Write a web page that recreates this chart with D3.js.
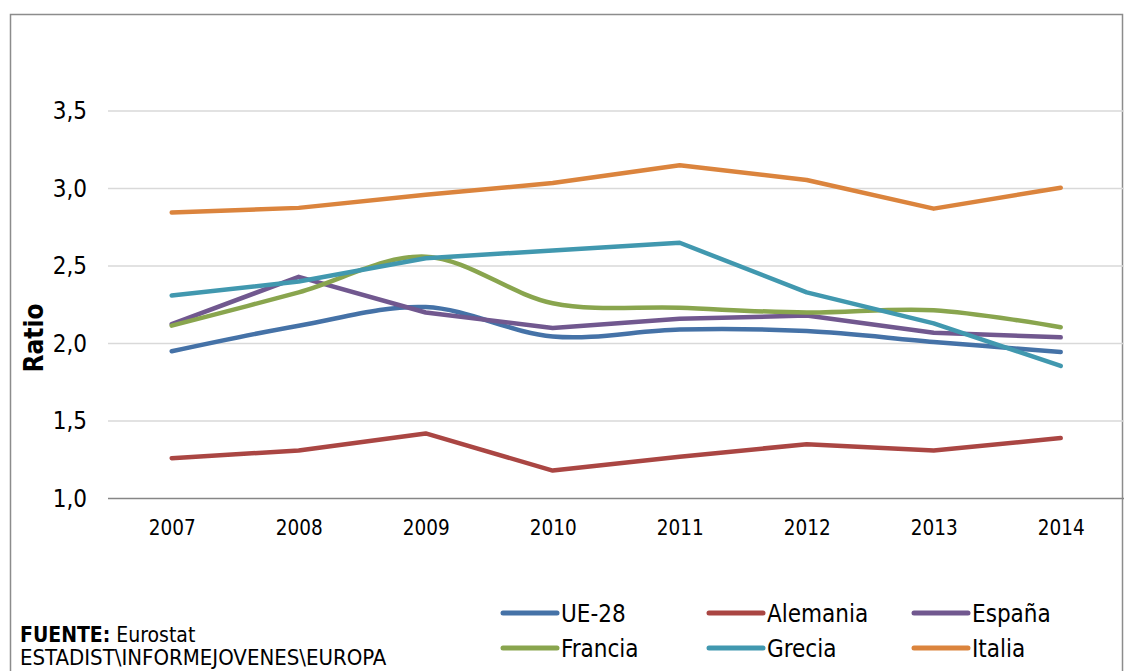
<!DOCTYPE html>
<html><head><meta charset="utf-8">
<script src="https://cdn.jsdelivr.net/npm/d3@7/dist/d3.min.js"></script>
<style>
html,body{margin:0;padding:0;background:#fff;}
svg{display:block;}
text{font-family:"DejaVu Sans Condensed","DejaVu Sans",sans-serif;font-stretch:condensed;fill:#000;}
</style></head><body>
<svg id="c" width="1130" height="671"></svg>
<script>
const years = ["2007","2008","2009","2010","2011","2012","2013","2014"];
const seriesNames = ["UE-28","Alemania","España","Francia","Grecia","Italia"];
const ue28     = [1.95, 2.115, 2.235, 2.045, 2.09, 2.08, 2.01, 1.945];
const alemania = [1.26, 1.31, 1.42, 1.18, 1.27, 1.35, 1.31, 1.39];
const espana   = [2.125, 2.43, 2.20, 2.10, 2.16, 2.18, 2.07, 2.04];
const francia  = [2.115, 2.33, 2.56, 2.26, 2.23, 2.20, 2.215, 2.105];
const grecia   = [2.31, 2.40, 2.55, 2.60, 2.65, 2.33, 2.13, 1.855];
const italia   = [2.845, 2.875, 2.96, 3.035, 3.15, 3.055, 2.87, 3.005];
const yTicks = [1.0, 1.5, 2.0, 2.5, 3.0, 3.5];
const colors = ["#4572A7","#AA4643","#71588F","#89A54E","#4198AF","#DB843D"];
const smooth = [true, false, false, true, false, false];
const values = [ue28, alemania, espana, francia, grecia, italia];

const svg = d3.select("#c");
// outer frame
svg.append("rect").attr("x",10.5).attr("y",14.5).attr("width",1112).attr("height",700)
  .attr("fill","none").attr("stroke","#8c8c8c").attr("stroke-width",1.5);

const x = d3.scalePoint().domain(years).range([171.7, 1060.7]);
const y = d3.scaleLinear().domain([1.0, 3.5]).range([498.5, 111]);
const left = 108, right = 1124;
const fmt = v => d3.format(".1f")(v).replace(".", ",");

// gridlines
svg.append("g").selectAll("line").data(yTicks.filter(d => d > 1)).join("line")
  .attr("x1", left).attr("x2", right)
  .attr("y1", d => y(d)).attr("y2", d => y(d))
  .attr("stroke", "#d9d9d9").attr("stroke-width", 1.3);

// y axis labels
const yAxis = d3.axisLeft(y).tickValues(yTicks).tickFormat(fmt).tickSize(0).tickPadding(0);
const gy = svg.append("g").attr("transform", "translate(87,0)").call(yAxis);
gy.select(".domain").remove();
gy.selectAll("text").style("font-size","24px").attr("fill","#000")
  .attr("font-family", null);

// x axis
const xAxis = d3.axisBottom(x).tickSize(0).tickPadding(0);
const gx = svg.append("g").attr("transform", `translate(0,${y(1.0)})`).call(xAxis);
gx.select(".domain").remove();
gx.append("line").attr("x1", left).attr("x2", right).attr("y1", 0).attr("y2", 0)
  .attr("stroke", "#868686").attr("stroke-width", 1.3);
gx.selectAll(".tick text").style("font-size","20.5px").attr("fill","#000")
  .attr("dy", null).attr("y", 36).attr("font-family", null);

// axis title
svg.append("text").attr("transform", "translate(43,338) rotate(-90)")
  .attr("text-anchor","middle").style("font-size","26px").style("font-weight","bold")
  .text("Ratio");

// lines
values.forEach((vals, i) => {
  const line = d3.line()
    .x((d, j) => x(years[j]))
    .y(d => y(d))
    .curve(smooth[i] ? d3.curveCardinal.tension(0) : d3.curveLinear);
  svg.append("path").datum(vals).attr("d", line)
    .attr("fill","none").attr("stroke", colors[i]).attr("stroke-width", 4.5)
    .attr("stroke-linecap","round").attr("stroke-linejoin","round");
});

// legend
const legX = [503, 709, 914], legY = [613, 648];
seriesNames.forEach((name, i) => {
  const cx = legX[i % 3], cy = legY[Math.floor(i / 3)];
  const g = svg.append("g").attr("transform", `translate(${cx},${cy})`);
  g.append("line").attr("x1", 0).attr("x2", 54).attr("y1", 0).attr("y2", 0)
    .attr("stroke", colors[i]).attr("stroke-width", 5).attr("stroke-linecap","round");
  g.append("text").attr("x", 58).attr("y", 0).attr("dy","0.36em")
    .style("font-size","24px").text(name);
});

// source note
const note = svg.append("text").attr("x", 20).attr("y", 642).style("font-size","21px");
note.append("tspan").style("font-weight","bold").text("FUENTE:");
note.append("tspan").text(" Eurostat");
svg.append("text").attr("x", 20).attr("y", 665).style("font-size","22px")
  .text("ESTADIST\\INFORMEJOVENES\\EUROPA");
</script>
</body></html>
